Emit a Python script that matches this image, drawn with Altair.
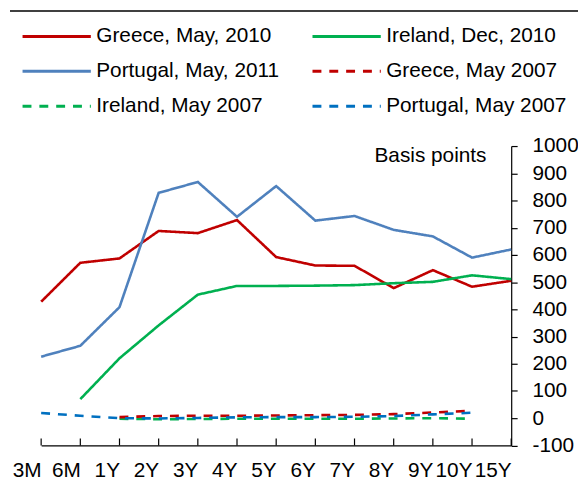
import altair as alt
import pandas as pd

# ---- data ----
cats = ["3M", "6M", "1Y", "2Y", "3Y", "4Y", "5Y", "6Y", "7Y", "8Y", "9Y", "10Y", "15Y"]

greece_2010 = [428, 571, 587, 688, 680, 728, 592, 561, 560, 478, 544, 483, 505]
ireland_2010 = [None, 70, 220, 341, 454, 486, 486, 487, 489, 496, 501, 525, 511]
portugal_2011 = [226, 266, 408, 828, 868, 740, 853, 726, 743, 692, 668, 590, 620]
greece_2007 = [None, None, 4, 8, 9, 9, 10, 11, 12, 15, 21, 27, None]
ireland_2007 = [None, None, -2, -4, -3, -2, -2, -2, -2, -1, 0, -2, None]
portugal_2007 = [19, 9, 0, -1, 1, 3, 4, 4, 5, 8, 14, 20, None]

# legend is filled column by column, so this order gives the reference's rows
series_names = [
    "Greece, May, 2010",
    "Portugal, May, 2011",
    "Ireland, May 2007",
    "Ireland, Dec, 2010",
    "Greece, May 2007",
    "Portugal, May 2007",
]
series_values = [greece_2010, portugal_2011, ireland_2007, ireland_2010, greece_2007, portugal_2007]
series_colors = ["#C00000", "#4F81BD", "#00B050", "#00B050", "#C00000", "#0070C0"]
series_dash = [[1, 0], [1, 0], [9, 8], [1, 0], [9, 8], [9, 8]]

y_ticks = list(range(-100, 1001, 100))

rows = []
for name, vals in zip(series_names, series_values):
    for c, v in zip(cats, vals):
        if v is not None:
            rows.append({"tenor": c, "series": name, "bp": v})
df = pd.DataFrame(rows)

FONT = "Liberation Sans"
W, H = 475, 302.5
PAD = {"left": 33.5, "top": 137, "right": 67.5, "bottom": 36}

x_enc = alt.X("tenor:N", sort=cats,
              scale=alt.Scale(type="point", padding=0, domain=cats),
              axis=alt.Axis(title=None, labelAngle=0, ticks=False, tickSize=0,
                            labelPadding=25, labelFontSize=21, labelFont=FONT,
                            labelColor="black", domainColor="black", domainWidth=1.2,
                            grid=False, labelFlush=False, labelOverlap=False))

y_enc = alt.Y("bp:Q",
              scale=alt.Scale(domain=[-100, 1000], nice=False, zero=False),
              axis=alt.Axis(orient="right", values=y_ticks, grid=False,
                            labelExpr="'' + datum.value",
                            tickSize=6, tickColor="black", tickWidth=1.2,
                            domainColor="black", domainWidth=1.2,
                            labelPadding=15, labelFontSize=21, labelFont=FONT,
                            labelColor="black", labelAlign="left",
                            title="Basis points", titleAngle=0, titleAlign="right",
                            titleBaseline="alphabetic", titleX=-25.5, titleY=15.5,
                            titleFontSize=21, titleFont=FONT, titleFontWeight="normal",
                            titleColor="black"))

legend = alt.Legend(
    title=None, orient="none", legendX=-20.3, legendY=-121.3,
    columns=2, columnPadding=32, rowPadding=13.3,
    symbolType="stroke", symbolSize=4761, symbolStrokeWidth=3,
    clipHeight=21, labelOffset=4,
    labelFontSize=21, labelFont=FONT, labelColor="black",
    labelLimit=400)

lines = alt.Chart(df).mark_line(strokeWidth=2.6).encode(
    x=x_enc,
    y=y_enc,
    color=alt.Color("series:N", sort=series_names,
                    scale=alt.Scale(domain=series_names, range=series_colors),
                    legend=legend),
    strokeDash=alt.StrokeDash("series:N", sort=series_names,
                              scale=alt.Scale(domain=series_names, range=series_dash),
                              legend=legend),
)

tick_df = pd.DataFrame({"tenor": cats})
xticks = alt.Chart(tick_df).mark_rule(color="black", strokeWidth=1.2).encode(
    x=alt.X("tenor:N", sort=cats, scale=alt.Scale(type="point", padding=0, domain=cats)),
    y=alt.value(H),
    y2=alt.value(H - 7),
)

header = alt.Chart(pd.DataFrame({"a": [0]})).mark_rule(color="black", strokeWidth=1.5).encode(
    x=alt.value(-31.5), x2=alt.value(W + PAD["right"]), y=alt.value(-136.5)
)

chart = alt.layer(xticks, lines, header).properties(
    width=W, height=H, autosize="none", padding=PAD, background="white"
).configure_view(stroke=None)

chart.save("out.html", embed_options={"renderer": "svg", "actions": False})
